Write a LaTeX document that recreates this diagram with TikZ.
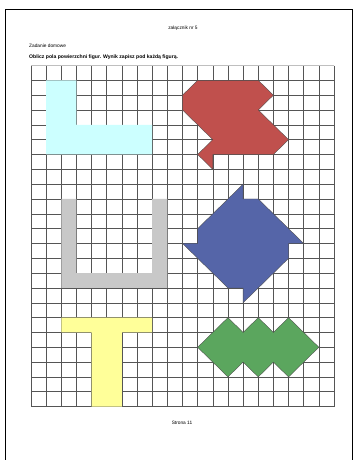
\documentclass[tikz,border=0pt]{standalone}
\usepackage{fontspec}
\setmainfont{Liberation Sans}
\definecolor{gridc}{HTML}{555555}
\definecolor{cyanf}{HTML}{CCFFFF}
\definecolor{redf}{HTML}{C0504D}
\definecolor{grayf}{HTML}{C8C8C8}
\definecolor{bluef}{HTML}{5565A8}
\definecolor{yellowf}{HTML}{FFFF99}
\definecolor{greenf}{HTML}{5BA65E}
\tikzset{
  txt/.style={inner sep=0pt, font=\fontsize{4.8}{5.5}\selectfont},
  btxt/.style={inner sep=0pt, font=\fontsize{5.1}{6}\selectfont\bfseries},
  gridline/.style={draw=gridc, line width=0.55pt},
  plainshape/.style={draw=none},
  edgedshape/.style={draw=black!70, line width=0.35pt, line join=miter}
}
\begin{document}
\begin{tikzpicture}[x=1pt,y=-1pt]
\useasboundingbox (0,0) rectangle (355,460);
\fill[white] (0,0) rectangle (355,460);
% page frame
\draw[line width=0.8pt] (5,465) -- (5,9.5) -- (352,9.5) -- (352,465);
% texts
\node[txt] (att) at (183,28) {załącznik nr 5};
\node[txt, anchor=west] (task) at (29,46) {Zadanie domowe};
\node[btxt, anchor=west] (instr) at (29,57.5) {Oblicz pola powierzchni figur. Wynik zapisz pod każdą figurą.};
\node[txt] (page) at (182,422.5) {Strona 11};
\begin{scope}[shift={(31,65.5)}, x=15.15pt, y=-14.83pt]
  % grid
  \foreach \i in {0,...,20} \draw[gridline] (\i,0) -- (\i,23);
  \draw[draw=black!25, line width=0.55pt] (0,0) -- (20,0);
  \foreach \j in {1,...,23} \draw[gridline] (0,\j) -- (20,\j);
  % cyan L
  \fill[cyanf] (1,1) -- (3,1) -- (3,4) -- (8,4) -- (8,6) -- (1,6) -- cycle;
  % red shape
  \filldraw[fill=redf, edgedshape] (11,1) -- (15,1) -- (16,2) -- (15,3) -- (17,5) -- (16,6) -- (12,6) -- (12,7) -- (11,6) -- (12,5) -- (10,3) -- (10,2) -- cycle;
  % grey U
  \fill[grayf] (2,9) -- (3,9) -- (3,14) -- (8,14) -- (8,9) -- (9,9) -- (9,15) -- (2,15) -- cycle;
  % blue pinwheel
  \filldraw[fill=bluef, edgedshape] (14,8) -- (14,9) -- (15,9) -- (18,12) -- (17,12) -- (17,13) -- (14,16) -- (14,15) -- (13,15) -- (10,12) -- (11,12) -- (11,11) -- cycle;
  % yellow T
  \fill[yellowf] (2,17) -- (8,17) -- (8,18) -- (6,18) -- (6,23) -- (4,23) -- (4,18) -- (2,18) -- cycle;
  % green zigzag
  \filldraw[fill=greenf, edgedshape] (11,19) -- (13,17) -- (14,18) -- (15,17) -- (16,18) -- (17,17) -- (19,19) -- (17,21) -- (16,20) -- (15,21) -- (14,20) -- (13,21) -- cycle;
\end{scope}
\end{tikzpicture}
\end{document}
